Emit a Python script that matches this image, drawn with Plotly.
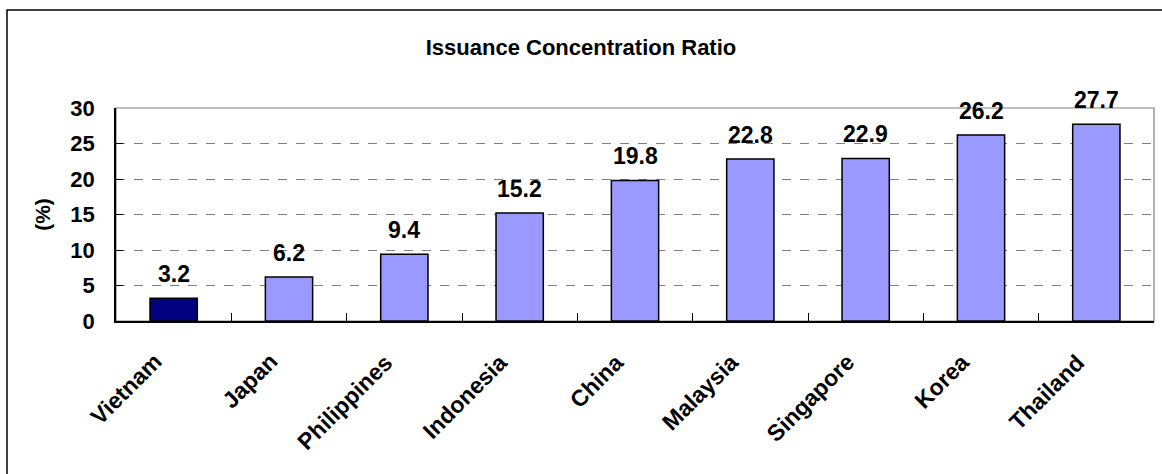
import plotly.graph_objects as go

countries = ["Vietnam", "Japan", "Philippines", "Indonesia", "China",
             "Malaysia", "Singapore", "Korea", "Thailand"]
ratios = [3.2, 6.2, 9.4, 15.2, 19.8, 22.8, 22.9, 26.2, 27.7]
bar_colors = ["#000080"] + ["#9999FF"] * 8
y_ticks = [0, 5, 10, 15, 20, 25, 30]

W, H = 1162, 474
L, R, T, B = 116, 8, 108, 153
FONT = "Liberation Sans, Arial, sans-serif"
pw, ph = W - L - R, H - T - B

fig = go.Figure()
fig.add_trace(go.Bar(
    x=countries, y=ratios,
    marker=dict(color=bar_colors, line=dict(color="#000000", width=1.5)),
    width=0.41, hoverinfo="x+y",
))

# value labels above each bar
for c, v in zip(countries, ratios):
    fig.add_annotation(x=c, y=v, text=f"<b>{v:.1f}</b>", showarrow=False,
                       yanchor="bottom", yshift=9,
                       font=dict(family=FONT, size=23, color="#000000"))

# slanted category labels under the axis
for c in countries:
    fig.add_annotation(x=c, xref="x", y=-25 / ph, yref="paper", text=f"<b>{c}</b>",
                       showarrow=False, textangle=-45, xanchor="right",
                       yanchor="top", xshift=-4,
                       font=dict(family=FONT, size=23, color="#000000"))

# plot frame (top/right gray edges)
fig.add_shape(type="rect", xref="paper", yref="paper", x0=0, x1=1, y0=0, y1=1,
              line=dict(color="#808080", width=1.2), layer="below")

# outer chart border
fig.add_shape(type="rect", xref="paper", yref="paper",
              x0=(7 - L) / pw, x1=(W + 20 - L) / pw,
              y0=(H - B - (H + 20)) / ph, y1=(H - B - 10) / ph,
              line=dict(color="#000000", width=1.5))

fig.update_layout(
    width=W, height=H,
    margin=dict(l=L, r=R, t=T, b=B),
    paper_bgcolor="white", plot_bgcolor="white",
    showlegend=False,
    font=dict(family=FONT, color="#000000"),
    title=dict(text="<b>Issuance Concentration Ratio</b>", x=0.5, xref="container",
               xanchor="center", y=1 - 47 / H, yanchor="middle",
               font=dict(family=FONT, size=22, color="#000000")),
    xaxis=dict(
        type="category", range=[-0.5, len(countries) - 0.5], autorange=False,
        showline=True, linecolor="#000000", linewidth=1.5,
        ticks="inside", ticklen=8, tickcolor="#000000", tickwidth=1,
        tickson="boundaries", showticklabels=False,
        showgrid=False, zeroline=False,
    ),
    yaxis=dict(
        range=[0, 30], autorange=False, tickvals=y_ticks, showline=True,
        linecolor="#000000", linewidth=1.5, ticks="inside", ticklen=7,
        tickcolor="#000000", ticklabelstandoff=15,
        tickfont=dict(family=FONT, size=22, color="#000000", weight="bold"),
        showgrid=True, gridcolor="#808080", gridwidth=1, griddash="dash",
        zeroline=False,
        title=dict(text="<b>(%)</b>", standoff=14,
                   font=dict(family=FONT, size=21, color="#000000")),
    ),
    bargap=0.59,
)

fig.write_html("out.html")
